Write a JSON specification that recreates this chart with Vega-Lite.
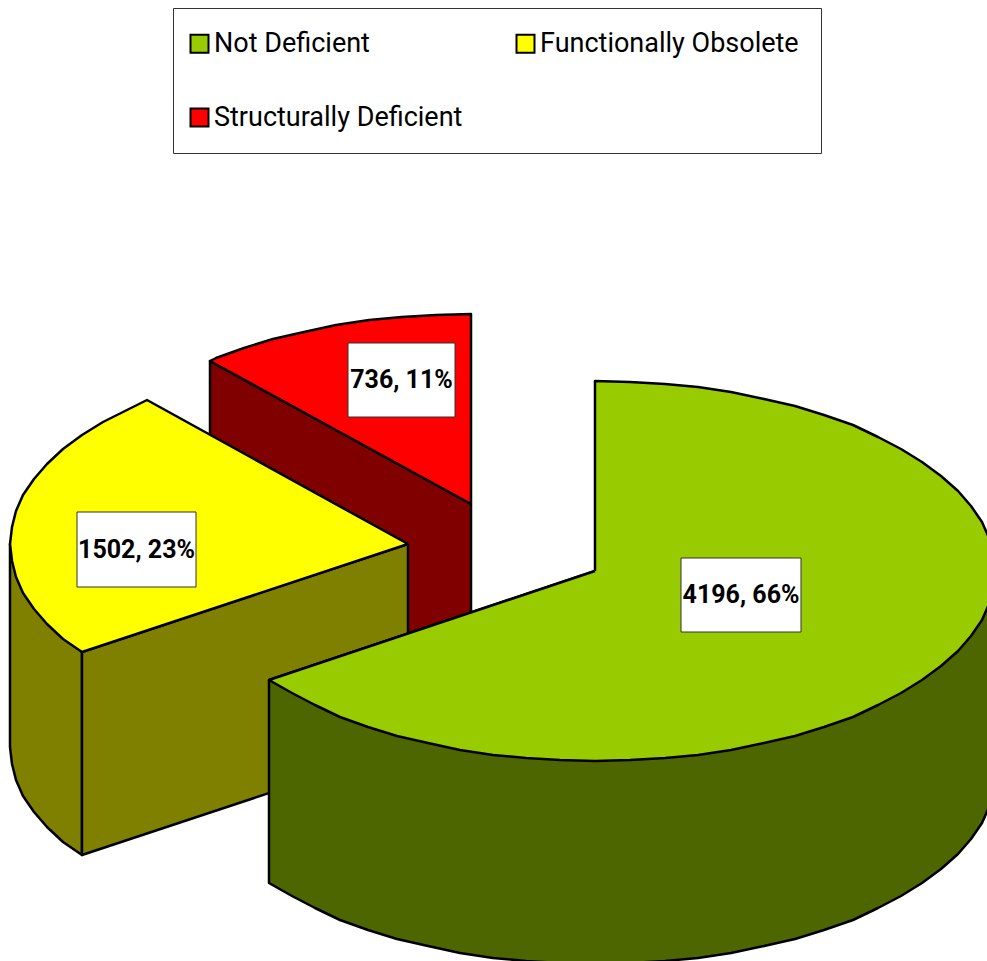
{"$schema":"https://vega.github.io/schema/vega-lite/v6.json","width":987,"height":961,"autosize":{"type":"fit","contains":"padding"},"padding":0,"background":"white","view":{"stroke":null},
"datasets":{"outlines":[
{"part":"Structurally Deficient side","n":1,"x":471,"y":504},{"part":"Structurally Deficient side","n":2,"x":210,"y":361},{"part":"Structurally Deficient side","n":3,"x":210,"y":564},{"part":"Structurally Deficient side","n":4,"x":471,"y":707},{"part":"Structurally Deficient side","n":5,"x":471,"y":504},
{"part":"Structurally Deficient","n":1,"x":471,"y":504},{"part":"Structurally Deficient","n":2,"x":471,"y":314},{"part":"Structurally Deficient","n":3,"x":436,"y":315},{"part":"Structurally Deficient","n":4,"x":402,"y":317},{"part":"Structurally Deficient","n":5,"x":369,"y":320},{"part":"Structurally Deficient","n":6,"x":336,"y":325},{"part":"Structurally Deficient","n":7,"x":304,"y":332},{"part":"Structurally Deficient","n":8,"x":273,"y":339},{"part":"Structurally Deficient","n":9,"x":244,"y":348},{"part":"Structurally Deficient","n":10,"x":216,"y":358},{"part":"Structurally Deficient","n":11,"x":210,"y":361},{"part":"Structurally Deficient","n":12,"x":471,"y":504},
{"part":"Functionally Obsolete rim","n":1,"x":82,"y":652},{"part":"Functionally Obsolete rim","n":2,"x":10,"y":544},{"part":"Functionally Obsolete rim","n":3,"x":10,"y":747},{"part":"Functionally Obsolete rim","n":4,"x":12,"y":764},{"part":"Functionally Obsolete rim","n":5,"x":16,"y":780},{"part":"Functionally Obsolete rim","n":6,"x":23,"y":796},{"part":"Functionally Obsolete rim","n":7,"x":34,"y":812},{"part":"Functionally Obsolete rim","n":8,"x":47,"y":827},{"part":"Functionally Obsolete rim","n":9,"x":63,"y":842},{"part":"Functionally Obsolete rim","n":10,"x":82,"y":855},{"part":"Functionally Obsolete rim","n":11,"x":82,"y":652},
{"part":"Functionally Obsolete side","n":1,"x":408,"y":544},{"part":"Functionally Obsolete side","n":2,"x":82,"y":652},{"part":"Functionally Obsolete side","n":3,"x":82,"y":855},{"part":"Functionally Obsolete side","n":4,"x":408,"y":747},{"part":"Functionally Obsolete side","n":5,"x":408,"y":544},
{"part":"Functionally Obsolete","n":1,"x":408,"y":544},{"part":"Functionally Obsolete","n":2,"x":82,"y":652},{"part":"Functionally Obsolete","n":3,"x":63,"y":639},{"part":"Functionally Obsolete","n":4,"x":47,"y":624},{"part":"Functionally Obsolete","n":5,"x":34,"y":609},{"part":"Functionally Obsolete","n":6,"x":23,"y":593},{"part":"Functionally Obsolete","n":7,"x":16,"y":577},{"part":"Functionally Obsolete","n":8,"x":12,"y":561},{"part":"Functionally Obsolete","n":9,"x":10,"y":544},{"part":"Functionally Obsolete","n":10,"x":12,"y":527},{"part":"Functionally Obsolete","n":11,"x":16,"y":511},{"part":"Functionally Obsolete","n":12,"x":23,"y":495},{"part":"Functionally Obsolete","n":13,"x":34,"y":479},{"part":"Functionally Obsolete","n":14,"x":47,"y":464},{"part":"Functionally Obsolete","n":15,"x":63,"y":449},{"part":"Functionally Obsolete","n":16,"x":82,"y":435},{"part":"Functionally Obsolete","n":17,"x":103,"y":422},{"part":"Functionally Obsolete","n":18,"x":127,"y":410},{"part":"Functionally Obsolete","n":19,"x":147,"y":400},{"part":"Functionally Obsolete","n":20,"x":408,"y":544},
{"part":"Not Deficient side","n":1,"x":269,"y":680},{"part":"Not Deficient side","n":2,"x":595,"y":571},{"part":"Not Deficient side","n":3,"x":995,"y":571},{"part":"Not Deficient side","n":4,"x":995,"y":774},{"part":"Not Deficient side","n":5,"x":993,"y":791},{"part":"Not Deficient side","n":6,"x":989,"y":807},{"part":"Not Deficient side","n":7,"x":982,"y":823},{"part":"Not Deficient side","n":8,"x":971,"y":839},{"part":"Not Deficient side","n":9,"x":958,"y":854},{"part":"Not Deficient side","n":10,"x":941,"y":869},{"part":"Not Deficient side","n":11,"x":922,"y":883},{"part":"Not Deficient side","n":12,"x":901,"y":896},{"part":"Not Deficient side","n":13,"x":878,"y":908},{"part":"Not Deficient side","n":14,"x":853,"y":920},{"part":"Not Deficient side","n":15,"x":824,"y":930},{"part":"Not Deficient side","n":16,"x":795,"y":939},{"part":"Not Deficient side","n":17,"x":764,"y":946},{"part":"Not Deficient side","n":18,"x":731,"y":953},{"part":"Not Deficient side","n":19,"x":698,"y":958},{"part":"Not Deficient side","n":20,"x":665,"y":961},{"part":"Not Deficient side","n":21,"x":630,"y":963},{"part":"Not Deficient side","n":22,"x":595,"y":964},{"part":"Not Deficient side","n":23,"x":560,"y":963},{"part":"Not Deficient side","n":24,"x":526,"y":961},{"part":"Not Deficient side","n":25,"x":493,"y":958},{"part":"Not Deficient side","n":26,"x":460,"y":953},{"part":"Not Deficient side","n":27,"x":428,"y":946},{"part":"Not Deficient side","n":28,"x":397,"y":939},{"part":"Not Deficient side","n":29,"x":368,"y":930},{"part":"Not Deficient side","n":30,"x":340,"y":920},{"part":"Not Deficient side","n":31,"x":315,"y":908},{"part":"Not Deficient side","n":32,"x":292,"y":896},{"part":"Not Deficient side","n":33,"x":269,"y":883},{"part":"Not Deficient side","n":34,"x":269,"y":680},
{"part":"Not Deficient","n":1,"x":595,"y":571},{"part":"Not Deficient","n":2,"x":269,"y":680},{"part":"Not Deficient","n":3,"x":292,"y":693},{"part":"Not Deficient","n":4,"x":315,"y":705},{"part":"Not Deficient","n":5,"x":340,"y":717},{"part":"Not Deficient","n":6,"x":368,"y":727},{"part":"Not Deficient","n":7,"x":397,"y":736},{"part":"Not Deficient","n":8,"x":428,"y":743},{"part":"Not Deficient","n":9,"x":460,"y":750},{"part":"Not Deficient","n":10,"x":493,"y":755},{"part":"Not Deficient","n":11,"x":526,"y":758},{"part":"Not Deficient","n":12,"x":560,"y":760},{"part":"Not Deficient","n":13,"x":595,"y":761},{"part":"Not Deficient","n":14,"x":630,"y":760},{"part":"Not Deficient","n":15,"x":665,"y":758},{"part":"Not Deficient","n":16,"x":698,"y":755},{"part":"Not Deficient","n":17,"x":731,"y":750},{"part":"Not Deficient","n":18,"x":764,"y":743},{"part":"Not Deficient","n":19,"x":795,"y":736},{"part":"Not Deficient","n":20,"x":824,"y":727},{"part":"Not Deficient","n":21,"x":853,"y":717},{"part":"Not Deficient","n":22,"x":878,"y":705},{"part":"Not Deficient","n":23,"x":901,"y":693},{"part":"Not Deficient","n":24,"x":922,"y":680},{"part":"Not Deficient","n":25,"x":941,"y":666},{"part":"Not Deficient","n":26,"x":958,"y":651},{"part":"Not Deficient","n":27,"x":971,"y":636},{"part":"Not Deficient","n":28,"x":982,"y":620},{"part":"Not Deficient","n":29,"x":989,"y":604},{"part":"Not Deficient","n":30,"x":993,"y":588},{"part":"Not Deficient","n":31,"x":995,"y":571},{"part":"Not Deficient","n":32,"x":993,"y":554},{"part":"Not Deficient","n":33,"x":989,"y":538},{"part":"Not Deficient","n":34,"x":982,"y":522},{"part":"Not Deficient","n":35,"x":971,"y":506},{"part":"Not Deficient","n":36,"x":958,"y":491},{"part":"Not Deficient","n":37,"x":941,"y":476},{"part":"Not Deficient","n":38,"x":922,"y":462},{"part":"Not Deficient","n":39,"x":901,"y":449},{"part":"Not Deficient","n":40,"x":878,"y":437},{"part":"Not Deficient","n":41,"x":853,"y":425},{"part":"Not Deficient","n":42,"x":824,"y":415},{"part":"Not Deficient","n":43,"x":795,"y":406},{"part":"Not Deficient","n":44,"x":764,"y":399},{"part":"Not Deficient","n":45,"x":731,"y":392},{"part":"Not Deficient","n":46,"x":698,"y":387},{"part":"Not Deficient","n":47,"x":665,"y":384},{"part":"Not Deficient","n":48,"x":630,"y":382},{"part":"Not Deficient","n":49,"x":595,"y":381},{"part":"Not Deficient","n":50,"x":595,"y":571}
],"labels":[
{"label":"4196, 66%","left":681,"right":801,"top":558,"bottom":632,"cx":741,"cy":595},
{"label":"1502, 23%","left":77,"right":196,"top":512,"bottom":587,"cx":136.5,"cy":550},
{"label":"736, 11%","left":348,"right":455,"top":343,"bottom":417,"cx":401.5,"cy":380}
]},
"layer":[
{"data":{"name":"outlines"},"mark":{"type":"line","filled":true,"stroke":"black","strokeWidth":2.5,"strokeJoin":"round","clip":true},
"encoding":{"x":{"field":"x","type":"quantitative","scale":{"domain":[0,987],"nice":false,"zero":false},"axis":null},
"y":{"field":"y","type":"quantitative","scale":{"domain":[961,0],"nice":false,"zero":false},"axis":null},
"order":{"field":"n","type":"quantitative"},
"color":{"field":"part","type":"nominal","sort":null,"scale":{"domain":["Not Deficient","Functionally Obsolete","Structurally Deficient","Not Deficient side","Functionally Obsolete side","Functionally Obsolete rim","Structurally Deficient side"],"range":["#99CC00","#FFFF00","#FF0000","#4D6600","#808000","#808000","#800000"]},
"legend":{"values":["Not Deficient","Structurally Deficient","Functionally Obsolete"],"title":null,"orient":"none","legendX":173,"legendY":8,"columns":2,"columnPadding":49,"rowPadding":46,"padding":22,"fillColor":"white","strokeColor":"#333333","symbolType":"square","symbolSize":324,"symbolStrokeColor":"black","symbolStrokeWidth":2,"symbolOpacity":1,"symbolOffset":-9,"labelFont":"Roboto","labelFontSize":27,"labelColor":"black","labelLimit":400,"labelOffset":1}}}},
{"data":{"name":"labels"},"mark":{"type":"rect","fill":"white","stroke":"#333333","strokeWidth":1},
"encoding":{"x":{"field":"left","type":"quantitative"},"x2":{"field":"right"},"y":{"field":"top","type":"quantitative"},"y2":{"field":"bottom"}}},
{"data":{"name":"labels"},"mark":{"type":"text","font":"Roboto","fontWeight":"bold","fontSize":25,"color":"black","align":"center","baseline":"middle"},
"encoding":{"x":{"field":"cx","type":"quantitative"},"y":{"field":"cy","type":"quantitative"},"text":{"field":"label"}}}
]}
